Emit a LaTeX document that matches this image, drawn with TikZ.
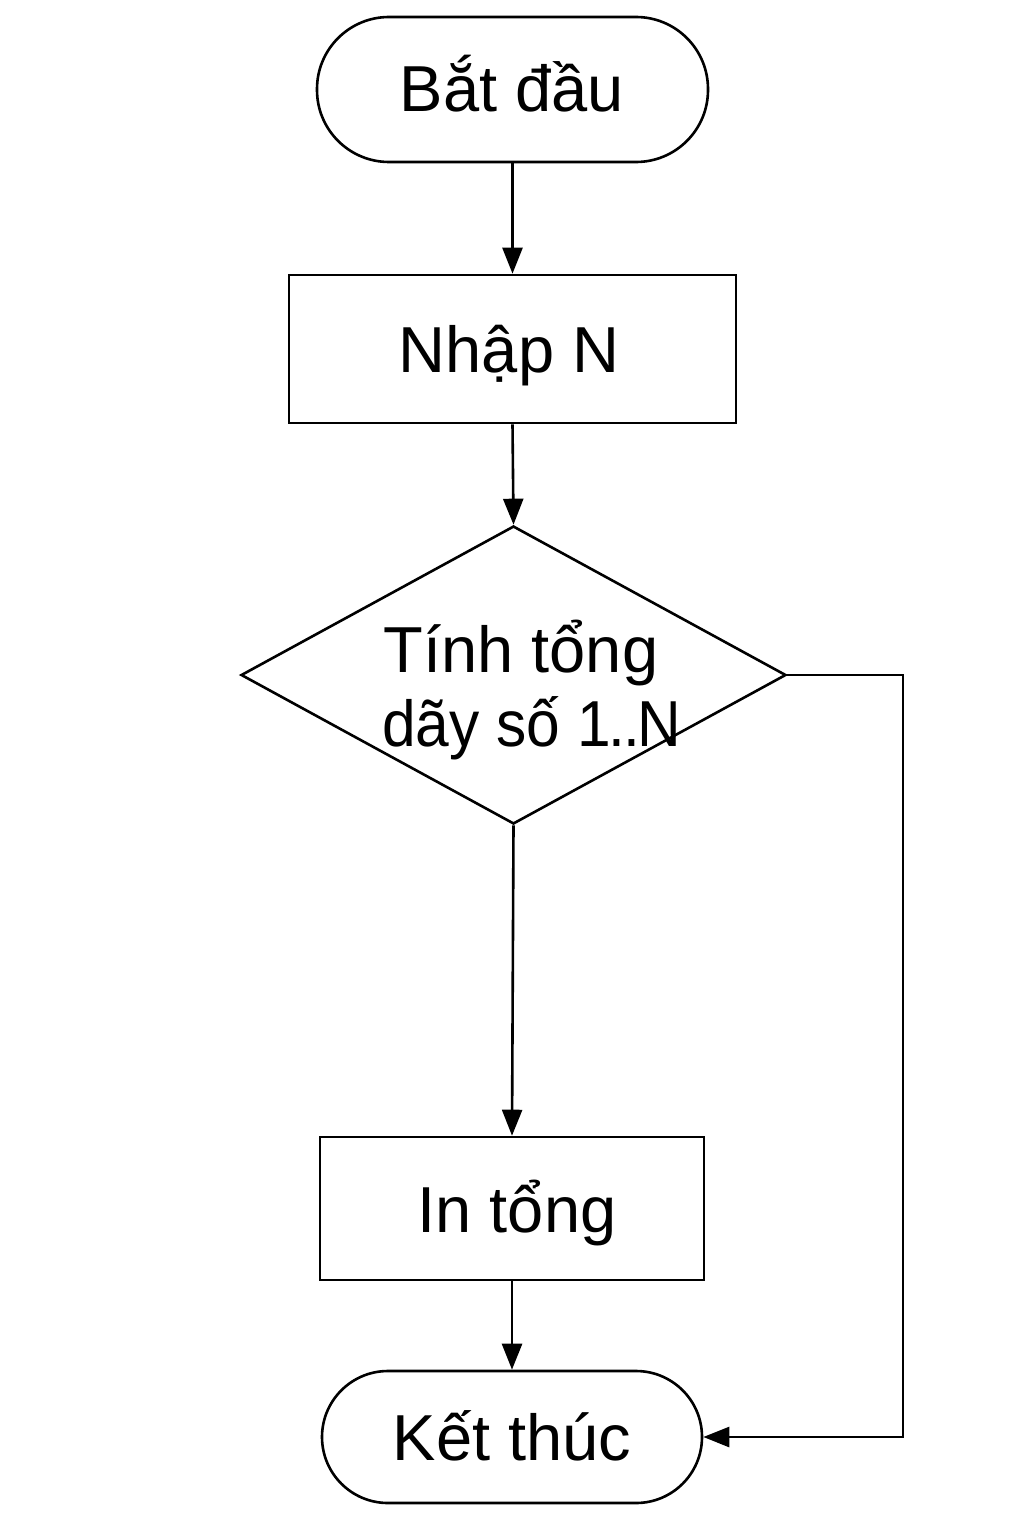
\documentclass[tikz,border=0pt]{standalone}
\usepackage{fontspec}
\setmainfont{Liberation Sans}
\usetikzlibrary{shapes.geometric,arrows.meta}
\begin{document}
\begin{tikzpicture}[x=1pt,y=-1pt,
  line width=2.6pt,
  txt/.style={font=\fontsize{65}{74}\selectfont, inner sep=0pt, anchor=base},
  term/.style={draw, rectangle, inner sep=0pt},
  procbox/.style={draw, rectangle, inner sep=0pt},
  arr/.style={-{Triangle[length=26pt,width=20pt]}}
]
\useasboundingbox[fill=white] (0,0) rectangle (1024,1536);
\node[term, minimum width=391pt, minimum height=145pt, rounded corners=72pt] (start) at (512.5,89.5) {};
\node[procbox, minimum width=447pt, minimum height=148pt] (input) at (512.5,349) {};
\node[draw, diamond, inner sep=0pt, minimum width=545pt, minimum height=298pt] (calc) at (513.5,675) {};
\node[procbox, minimum width=384pt, minimum height=143pt] (out) at (512,1208.5) {};
\node[term, minimum width=380pt, minimum height=132pt, rounded corners=66pt] (stop) at (512,1437) {};
\coordinate (c1) at (903,675);
\coordinate (c2) at (903,1437);

\node[txt] (t1) at (512,112) {Bắt đầu};
\node[txt] (t2) at (509,372) {Nhập N};
\node[txt] (t3) at (521,672) {Tính tổng};
\node[txt] (t4) at (532,746) {\scalebox{0.93}[1]{dãy số 1\kern-3pt.\kern-2pt.\kern-2pt N}};
\node[txt] (t5) at (517,1232) {In tổng};
\node[txt] (t6) at (512,1460) {Kết thúc};

\draw[arr] (start.south) -- (input.north);
\draw[arr] (input.south) -- (calc.north);
\draw[arr] (calc.south) -- (out.north);
\draw[arr] (out.south) -- (stop.north);
\draw[arr] (calc.east) -- (c1) -- (c2) -- (stop.east);
\end{tikzpicture}
\end{document}
